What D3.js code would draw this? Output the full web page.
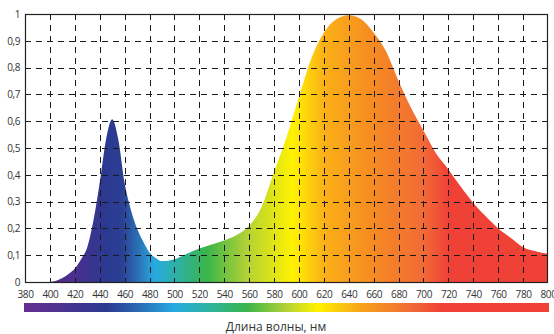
<!DOCTYPE html>
<html><head><meta charset="utf-8">
<script src="https://cdn.jsdelivr.net/npm/d3@7"></script>
<style>body{margin:0;background:#fff}svg{display:block}text{font-family:"Open Sans","Noto Sans",sans-serif;fill:#333}</style>
</head><body><svg id="c" width="554" height="334"></svg>
<script>
const wavelengths = [400,405,410,415,420,425,430,435,440,445,450,455,460,465,470,475,480,485,490,500,510,520,530,540,550,560,570,580,590,600,610,620,630,640,650,660,670,680,690,700,710,720,730,740,750,760,770,780,790,800];
const intensity   = [0,0.005,0.015,0.03,0.05,0.085,0.13,0.23,0.37,0.53,0.607,0.53,0.37,0.27,0.2,0.15,0.11,0.09,0.078,0.085,0.105,0.125,0.14,0.155,0.175,0.21,0.28,0.41,0.54,0.69,0.835,0.93,0.98,0.995,0.98,0.93,0.86,0.75,0.65,0.565,0.48,0.42,0.355,0.295,0.245,0.2,0.165,0.13,0.115,0.105];
const xTicks = [380,400,420,440,460,480,500,520,540,560,580,600,620,640,660,680,700,720,740,760,780,800];
const yTicks = [0,0.1,0.2,0.3,0.4,0.5,0.6,0.7,0.8,0.9,1];
const fillStopWl    = [380,420,445,458,472,484,505,526,558,595,620,660,700,720,800];
const fillStopColor = ["#5b2a88","#4a2f8e","#2b3990","#2b3f94","#2a75b8","#27aae1","#2fb19b","#39b54a","#b3d235","#fff200","#fbb116","#f58a22","#f26a36","#ef4136","#ef4136"];
const barStopWl     = [380,445,465,500,530,558,590,615,650,690,715,800];
const barStopColor  = ["#662d91","#2b3990","#2a5ea8","#27aae1","#2fb39b","#39b54a","#b3d235","#fff200","#f7a21b","#f26a36","#ef4136","#ef4136"];
const xLabel = "Длина волны, нм";

const svg = d3.select("#c");
const L = 25, R = 548, T = 14, B = 282;
const x = d3.scaleLinear().domain([380,800]).range([L,R]);
const y = d3.scaleLinear().domain([0,1]).range([B,T]);
const defs = svg.append("defs");
function grad(id, wls, cols){
  const g = defs.append("linearGradient").attr("id",id).attr("gradientUnits","userSpaceOnUse")
    .attr("x1",x(380)).attr("x2",x(800)).attr("y1",0).attr("y2",0);
  wls.forEach((w,i)=>g.append("stop").attr("offset",(w-380)/420).attr("stop-color",cols[i]));
}
grad("gf", fillStopWl, fillStopColor);
grad("gb", barStopWl, barStopColor);

const data = wavelengths.map((w,i)=>[w,intensity[i]]);
const area = d3.area().x(d=>x(d[0])).y0(y(0)).y1(d=>y(d[1])).curve(d3.curveMonotoneX);
svg.append("path").datum(data).attr("d",area).attr("fill","url(#gf)");

// grid
const grid = svg.append("g").attr("stroke","#1a1a1a").attr("stroke-width",1).attr("stroke-dasharray","6,5");
xTicks.filter(t=>t>380&&t<800).forEach(t=>grid.append("line").attr("x1",Math.round(x(t))+0.5).attr("x2",Math.round(x(t))+0.5).attr("y1",T).attr("y2",B));
yTicks.filter(t=>t>0&&t<1).forEach(t=>grid.append("line").attr("y1",Math.round(y(t))+0.5).attr("y2",Math.round(y(t))+0.5).attr("x1",L).attr("x2",R));

// frame
svg.append("rect").attr("x",L+0.5).attr("y",T+0.5).attr("width",R-L-1).attr("height",B-T).attr("fill","none").attr("stroke","#222").attr("stroke-width",1.2);

// axes
const fmt = d=> d===0?"0":d===1?"1":String(d).replace(".",",");
const ax = svg.append("g").attr("transform",`translate(0,${B})`)
  .call(d3.axisBottom(x).tickValues(xTicks).tickSize(0).tickPadding(9).tickFormat(d3.format("d")));
const ay = svg.append("g").attr("transform",`translate(${L},0)`)
  .call(d3.axisLeft(y).tickValues(yTicks).tickSize(0).tickPadding(5).tickFormat(fmt));
[ax,ay].forEach(a=>{a.select(".domain").remove();a.selectAll("text").attr("font-family","'Open Sans',sans-serif").attr("font-size",10).attr("fill","#333").attr("letter-spacing","-0.4");});

// color bar
svg.append("rect").attr("x",x(380)-1).attr("y",303).attr("width",x(800)-x(380)+2).attr("height",9).attr("fill","url(#gb)");
svg.append("text").attr("x",276).attr("y",331).attr("text-anchor","middle").attr("font-size",12).attr("fill","#222").text(xLabel);
</script></body></html>
